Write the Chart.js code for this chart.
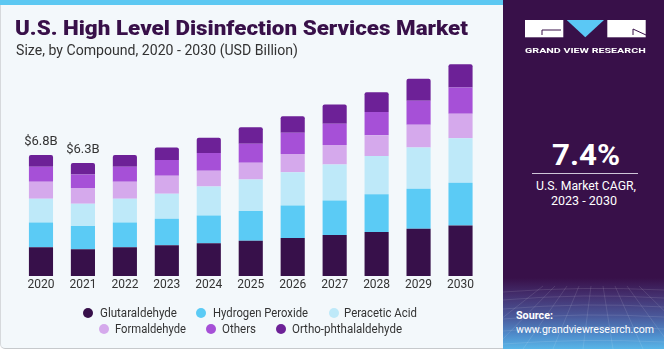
<!DOCTYPE html>
<html><head><meta charset="utf-8">
<script src="https://cdn.jsdelivr.net/npm/chart.js@4.4.1/dist/chart.umd.min.js"></script>
<style>
html,body{margin:0;padding:0;background:#fff;width:664px;height:357px;overflow:hidden;font-family:Roboto,"Liberation Sans",sans-serif;}
body{position:relative;}
#card{position:absolute;left:0;top:0;width:663px;height:348px;background:#f3f8fb;border-left:1px solid #d6d9dc;border-bottom:1px solid #c6c9cc;border-bottom-left-radius:5px;}
#topbar{position:absolute;left:0;top:0;width:504px;height:5px;background:#5cc8f2;}
#panel{position:absolute;left:503px;top:0;width:161px;height:349px;background:#381049;}
#panelBottom{position:absolute;left:503px;top:278px;width:161px;height:71px;background:linear-gradient(to bottom,#381049 0%,#44306f 25%,#4a5a9c 55%,#4f8ccb 80%,#58b6e8 100%);}
#mesh{position:absolute;left:503px;top:278px;}
#chartBox{position:absolute;left:0;top:0;width:504px;height:349px;}
.lg{position:absolute;border-radius:50%;width:10px;height:10px;}
</style></head>
<body>
<div id="card"></div>
<div id="topbar"></div>
<div id="panel"></div>
<div id="panelBottom"></div>
<svg id="mesh" width="161" height="71" viewBox="0 0 161 71">
  <g stroke="#ffffff" stroke-opacity="0.16" stroke-width="0.7" fill="none">
    <path d="M0 14 Q80 8 161 12"/><path d="M0 22 Q80 15 161 20"/><path d="M0 31 Q80 24 161 29"/>
    <path d="M0 41 Q80 34 161 39"/><path d="M0 53 Q80 46 161 51"/><path d="M0 66 Q80 60 161 64"/>
    <path d="M-40 71 L40 8"/><path d="M-10 71 L52 8"/><path d="M20 71 L64 8"/><path d="M50 71 L76 8"/>
    <path d="M80 71 L88 8"/><path d="M110 71 L100 8"/><path d="M140 71 L112 8"/><path d="M170 71 L124 8"/><path d="M200 71 L136 8"/>
  </g>
</svg>
<svg style="position:absolute;left:0;top:0" width="664" height="60">
  <rect x="525" y="20" width="38.3" height="17.3" fill="#ffffff"/>
  <path d="M542 35 L542 30 L561 30" stroke="#381049" stroke-width="1" fill="none"/>
  <polygon points="566.7,20 604,20 585.3,37.3" fill="#5bc8f5"/>
  <rect x="607.3" y="20" width="38.4" height="17.3" fill="#ffffff"/>
  <path d="M633 35 L633 29 L646 35" stroke="#381049" stroke-width="1" fill="none"/>
</svg>
<div id="chartBox"><canvas id="c" width="504" height="349"></canvas></div>
<div id="legend"></div>
<script>
// ---- data ----
const categories = ['2020','2021','2022','2023','2024','2025','2026','2027','2028','2029','2030'];
const glutaraldehyde      = [1.62,1.51,1.62,1.73,1.84,1.98,2.13,2.30,2.47,2.66,2.84];
const hydrogenPeroxide    = [1.39,1.30,1.39,1.49,1.56,1.67,1.84,1.95,2.12,2.25,2.40];
const peraceticAcid       = [1.34,1.25,1.34,1.41,1.63,1.77,1.86,2.02,2.16,2.32,2.51];
const formaldehyde        = [0.95,0.89,0.95,1.00,0.89,0.95,1.03,1.10,1.17,1.28,1.38];
const others              = [0.84,0.76,0.84,0.89,1.00,1.06,1.19,1.19,1.30,1.35,1.47];
const orthoPhthalaldehyde = [0.67,0.65,0.67,0.71,0.86,0.93,0.93,1.08,1.11,1.23,1.30];
const totalLabels = ['$6.8B','$6.3B','','','','','','','','',''];
const seriesNames = ['Glutaraldehyde','Hydrogen Peroxide','Peracetic Acid','Formaldehyde','Others','Ortho-phthalaldehyde'];

// ---- styles ----
const seriesColors = ['#37104a','#5bcbf5','#bee9f9','#d5a9ec','#a650d7','#6d2197'];
const FONT = 'Roboto, "Liberation Sans", sans-serif';
const seriesData = [glutaraldehyde,hydrogenPeroxide,peraceticAcid,formaldehyde,others,orthoPhthalaldehyde];

const totalLabelPlugin = {
  id:'totalLabels',
  afterDatasetsDraw(chart){
    const {ctx, scales:{x,y}} = chart;
    ctx.save();
    ctx.font = '13px ' + FONT;
    ctx.fillStyle = '#333333';
    ctx.textAlign = 'center';
    ctx.textBaseline = 'alphabetic';
    categories.forEach((c,i)=>{
      if(!totalLabels[i]) return;
      const total = chart.data.datasets.reduce((s,d)=>s+d.data[i],0);
      ctx.fillText(totalLabels[i], x.getPixelForValue(i), y.getPixelForValue(total)-10);
    });
    ctx.restore();
  }
};

const chart = new Chart(document.getElementById('c'), {
  type:'bar',
  data:{
    labels:categories,
    datasets: seriesNames.map((n,i)=>({
      label:n,
      data:seriesData[i],
      backgroundColor:seriesColors[i],
      borderWidth:0,
      borderRadius: i===seriesNames.length-1 ? {topLeft:2,topRight:2,bottomLeft:0,bottomRight:0} : 0,
      borderSkipped:false,
      categoryPercentage:1,
      barPercentage:0.575
    }))
  },
  options:{
    responsive:false,
    devicePixelRatio:1,
    animation:false,
    layout:{padding:{left:20,right:22.5,top:44.8,bottom:54.6}},
    plugins:{legend:{display:false},tooltip:{enabled:false},title:{display:false}},
    scales:{
      x:{stacked:true,
         grid:{display:false,drawTicks:false},
         border:{display:false},
         ticks:{color:'#333333',font:{family:FONT,size:12},padding:2,maxRotation:0,autoSkip:false}},
      y:{stacked:true,display:false,min:0,max:13}
    }
  },
  plugins:[totalLabelPlugin]
});

// ---- text helpers ----
function placeText(txt,left,baseline,fs,weight,color,width,center){
  const el=document.createElement('div');
  el.textContent=txt;
  el.style.cssText=`position:absolute;white-space:nowrap;left:${left}px;top:${baseline-0.8415*fs}px;font-size:${fs}px;line-height:${fs}px;font-weight:${weight};color:${color};transform-origin:0 0;font-family:${FONT};`;
  document.body.appendChild(el);
  const w=el.getBoundingClientRect().width;
  if(width) el.style.transform=`scaleX(${width/w})`;
  return el;
}

placeText('U.S. High Level Disinfection Services Market',15,35,20,900,'#381049',453);
placeText('Size, by Compound, 2020 - 2030 (USD Billion)',15.5,55,14,400,'#333333',282);
placeText('GRAND VIEW RESEARCH',525,53.5,7.5,700,'#ffffff',120.7);
placeText('7.4%',552,165.7,30,700,'#ffffff',68);
const line=document.createElement('div');
line.style.cssText='position:absolute;left:532px;top:172.5px;width:106px;height:1px;background:#cfc6d8;';
document.body.appendChild(line);
placeText('U.S. Market CAGR,',536,190.3,12,400,'#ffffff',100);
placeText('2023 - 2030',551,205,12,400,'#ffffff',66);
placeText('Source:',516,319,11,700,'#ffffff',37);
placeText('www.grandviewresearch.com',516,333.3,11.5,400,'#ffffff',138);

// ---- legend (HTML, from dataset labels/colors) ----
const legendSlots = [
  {mx:88, tx:100, w:77, y:313},
  {mx:201,tx:213, w:95, y:313},
  {mx:334,tx:344, w:73, y:313},
  {mx:104,tx:115, w:71, y:329},
  {mx:211,tx:222, w:34, y:329},
  {mx:281,tx:292, w:110,y:329}
];
chart.data.datasets.forEach((ds,i)=>{
  const s=legendSlots[i];
  const m=document.createElement('div');
  m.className='lg';
  m.style.left=(s.mx-5)+'px'; m.style.top=(s.y-5)+'px'; m.style.background=ds.backgroundColor;
  document.body.appendChild(m);
  placeText(ds.label,s.tx,s.y+4.3,12,400,'#333333',s.w);
});
</script>
</body></html>
